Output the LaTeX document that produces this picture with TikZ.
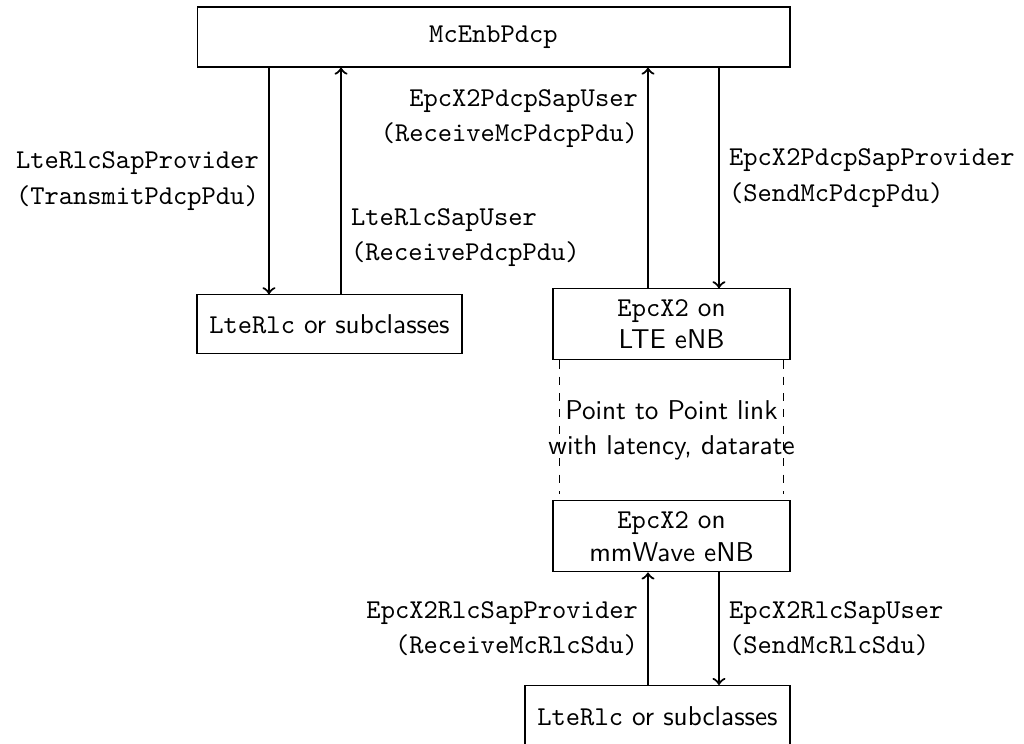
\documentclass[tikz,border=0pt]{standalone}
\usepackage{tikz}
\usetikzlibrary{arrows}
\usetikzlibrary{positioning}
\renewcommand{\familydefault}{\sfdefault}
\tikzset{block/.style = {draw, align=center}}
\tikzset{arr/.style = {->, thick}}
\tikzset{lbl/.style = {font=\ttfamily\fontsize{10}{13}\selectfont}}
\tikzset{link/.style = {dashed}}

\begin{document}
\begin{tikzpicture}
    \useasboundingbox (0, 0) rectangle (13.23, -9.6);

    \node [block, minimum width=7.66cm, minimum height=0.775cm] (pdcp) at (6.376, -0.478) {\texttt{McEnbPdcp}};
    \node [block, minimum width=3.424cm, minimum height=0.763cm] (rlc) at (4.257, -4.19) {\texttt{LteRlc} or subclasses};
    \node [block, minimum width=3.062cm, minimum height=0.917cm] (lte) at (8.676, -4.19) {\texttt{EpcX2} on\\LTE eNB};
    \node [block, minimum width=3.062cm, minimum height=0.917cm] (mmw) at (8.676, -6.93) {\texttt{EpcX2} on\\mmWave eNB};
    \node [block, anchor=north, minimum width=3.424cm, minimum height=0.8cm] (rlcmm) at (8.495, -8.85) {\texttt{LteRlc} or subclasses};

    % pdcp <-> rlc
    \draw [arr] ([xshift=-0.782cm]rlc.north |- pdcp.south) -- node [midway, left, lbl, align=right] {LteRlcSapProvider\\(TransmitPdcpPdu)} ([xshift=-0.782cm]rlc.north);
    \draw [arr] ([xshift=0.149cm]rlc.north) -- node [pos=0.25, right, lbl, align=left] {LteRlcSapUser\\(ReceivePdcpPdu)} ([xshift=0.149cm]rlc.north |- pdcp.south);

    % pdcp <-> x2
    \draw [arr] ([xshift=-0.304cm]lte.north) -- node [pos=0.77, left, lbl, align=right] {EpcX2PdcpSapUser\\(ReceiveMcPdcpPdu)} ([xshift=-0.304cm]lte.north |- pdcp.south);
    \draw [arr] ([xshift=0.613cm]lte.north |- pdcp.south) -- node [midway, right, lbl, align=left] {EpcX2PdcpSapProvider\\(SendMcPdcpPdu)} ([xshift=0.613cm]lte.north);

    % x2 link
    \draw [link] ([xshift=0.09cm]lte.south west) -- ([xshift=0.09cm, yshift=0.078cm]lte.south west |- mmw.north);
    \draw [link] ([xshift=-0.09cm]lte.south east) -- ([xshift=-0.09cm, yshift=0.078cm]lte.south east |- mmw.north);
    \node [align=center, font=\fontsize{10}{13}\selectfont] (ptp) at (8.676, -5.56) {Point to Point link\\with latency, datarate};

    % x2 <-> rlc
    \draw [arr] ([xshift=-0.304cm]mmw.south |- rlcmm.north) -- node [midway, left, lbl, align=right] {EpcX2RlcSapProvider\\(ReceiveMcRlcSdu)} ([xshift=-0.304cm]mmw.south);
    \draw [arr] ([xshift=0.613cm]mmw.south) -- node [midway, right, lbl, align=left] {EpcX2RlcSapUser\\(SendMcRlcSdu)} ([xshift=0.613cm]mmw.south |- rlcmm.north);
\end{tikzpicture}
\end{document}
